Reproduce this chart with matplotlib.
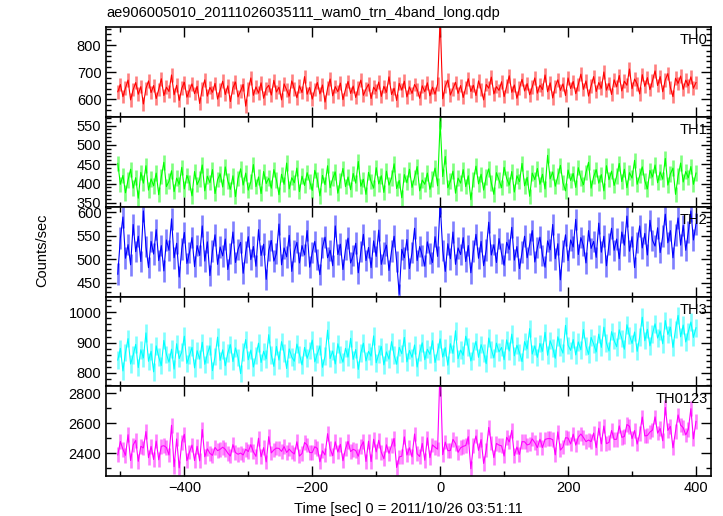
import numpy as np
import matplotlib
matplotlib.use('Agg')
import matplotlib.pyplot as plt
from matplotlib.ticker import MultipleLocator

plt.rcParams['font.family'] = ['Liberation Sans', 'DejaVu Sans']

title = 'ae906005010_20111026035111_wam0_trn_4band_long.qdp'
xlabel = 'Time [sec] 0 = 2011/10/26 03:51:11'
ylabel = 'Counts/sec'

# 4 s bins from -504 to 400 s
time = np.arange(-504, 401, 4)

th0 = [628, 655, 610, 642, 671, 598, 636, 662, 619, 647, 583, 640, 668, 625, 651,
       603, 637, 676, 614, 645, 629, 690, 617, 652, 596, 641, 663, 608, 633, 657,
       621, 648, 585, 639, 672, 612, 644, 626, 659, 601, 635, 667, 618, 650, 592,
       643, 664, 609, 631, 655, 575, 638, 679, 615, 646, 623, 661, 604, 640, 652,
       616, 670, 627, 645, 598, 657, 634, 612, 668, 639, 606, 650, 625, 684, 619,
       644, 601, 636, 662, 620, 653, 590, 641, 675, 613, 647, 628, 660, 599, 637,
       666, 622, 649, 607, 642, 671, 615, 638, 656, 603, 645, 630, 664, 611, 648,
       626, 683, 618, 641, 596, 659, 634, 667, 609, 646, 622, 655, 637, 604, 650,
       628, 661, 613, 645, 619, 657, 900, 602, 648, 671, 616, 639, 663, 622, 651,
       607, 644, 676, 629, 652, 614, 668, 637, 598, 655, 641, 682, 620, 647, 633,
       665, 610, 649, 687, 626, 653, 604, 641, 674, 631, 658, 617, 646, 679, 623,
       652, 636, 690, 628, 661, 605, 648, 672, 633, 657, 614, 679, 640, 666, 621,
       655, 693, 637, 668, 612, 650, 684, 629, 662, 641, 701, 634, 659, 618, 672,
       646, 688, 631, 667, 652, 712, 639, 675, 657, 620, 691, 648, 680, 636, 669,
       705, 651, 684, 628, 672, 695, 643, 610, 678, 659, 686, 637, 671, 650, 683,
       641, 662]

th1 = [452, 398, 421, 376, 409, 437, 388, 415, 362, 429, 401, 446, 383, 412, 394,
       427, 371, 418, 455, 392, 406, 433, 379, 414, 398, 442, 386, 421, 403, 368,
       431, 397, 412, 448, 381, 419, 402, 436, 374, 410, 425, 391, 443, 407, 385,
       420, 366, 413, 438, 396, 427, 383, 405, 449, 392, 417, 374, 431, 400, 414,
       388, 436, 409, 371, 424, 398, 453, 386, 415, 402, 440, 379, 419, 395, 428,
       405, 382, 434, 410, 368, 421, 397, 446, 389, 413, 430, 375, 408, 439, 392,
       417, 384, 426, 401, 457, 393, 411, 372, 429, 405, 388, 441, 399, 420, 377,
       432, 396, 414, 451, 387, 408, 363, 423, 402, 437, 390, 416, 444, 381, 409,
       398, 427, 385, 412, 440, 394, 560, 418, 470, 389, 406, 432, 375, 414, 401,
       436, 392, 420, 358, 411, 445, 399, 424, 383, 417, 438, 401, 372, 428, 409,
       389, 442, 413, 396, 431, 378, 420, 405, 452, 394, 416, 367, 427, 410, 439,
       398, 424, 386, 473, 412, 430, 393, 419, 447, 402, 381, 435, 408, 426, 390,
       441, 414, 397, 429, 455, 388, 418, 436, 401, 423, 381, 446, 410, 432, 395,
       419, 452, 405, 437, 389, 428, 414, 460, 398, 421, 443, 407, 386, 434, 417,
       448, 402, 430, 411, 465, 396, 425, 440, 372, 419, 453, 404, 431, 415, 444,
       398, 427]

th2 = [468, 545, 590, 502, 531, 488, 574, 516, 549, 495, 603, 527, 482, 538, 511,
       563, 497, 529, 475, 541, 519, 586, 503, 534, 462, 522, 557, 491, 514, 546,
       484, 529, 508, 571, 496, 537, 465, 518, 552, 489, 526, 507, 543, 478, 512,
       558, 493, 521, 536, 470, 515, 548, 499, 527, 485, 563, 508, 532, 457, 519,
       540, 496, 512, 575, 488, 524, 505, 551, 474, 517, 536, 492, 529, 509, 561,
       483, 514, 538, 499, 467, 525, 547, 503, 519, 486, 571, 510, 532, 478, 521,
       545, 492, 508, 534, 471, 516, 553, 497, 525, 482, 539, 506, 562, 489, 513,
       530, 476, 518, 549, 495, 425, 521, 503, 542, 480, 514, 566, 497, 527, 508,
       485, 537, 512, 493, 548, 506, 620, 519, 474, 533, 501, 558, 489, 524, 510,
       546, 495, 529, 471, 517, 553, 502, 538, 486, 520, 579, 509, 531, 493, 544,
       512, 487, 536, 521, 568, 498, 527, 480, 515, 549, 503, 532, 561, 494, 525,
       547, 508, 483, 539, 520, 574, 501, 533, 456, 518, 552, 497, 541, 526, 585,
       510, 546, 529, 492, 561, 523, 538, 504, 577, 515, 549, 486, 532, 566, 519,
       543, 501, 558, 530, 592, 517, 548, 482, 536, 571, 524, 555, 509, 583, 540,
       528, 567, 514, 549, 596, 535, 561, 503, 552, 588, 530, 572, 519, 558, 603,
       541, 575]

th3 = [842, 881, 806, 867, 913, 829, 858, 894, 817, 876, 849, 932, 838, 871, 803,
       889, 852, 824, 907, 861, 835, 878, 812, 896, 847, 869, 921, 831, 858, 884,
       816, 873, 845, 901, 828, 862, 889, 807, 854, 918, 841, 876, 823, 866, 893,
       837, 882, 851, 797, 868, 910, 843, 875, 819, 857, 898, 834, 871, 846, 926,
       859, 821, 887, 842, 903, 866, 814, 879, 852, 838, 895, 861, 826, 884, 848,
       873, 908, 836, 862, 889, 818, 855, 941, 847, 872, 829, 896, 860, 835, 881,
       852, 914, 844, 877, 811, 866, 898, 839, 871, 855, 922, 833, 862, 887, 826,
       869, 845, 903, 858, 828, 884, 863, 917, 836, 874, 851, 892, 819, 867, 899,
       843, 878, 861, 906, 834, 871, 912, 852, 883, 825, 896, 864, 939, 847, 875,
       858, 921, 886, 839, 872, 904, 851, 893, 866, 830, 915, 877, 849, 898, 869,
       884, 843, 909, 872, 928, 856, 891, 867, 837, 903, 879, 946, 862, 889, 851,
       897, 871, 934, 858, 906, 882, 848, 919, 886, 865, 957, 891, 874, 910, 859,
       902, 876, 943, 889, 861, 917, 895, 869, 928, 884, 951, 899, 872, 936, 907,
       886, 942, 913, 878, 959, 924, 897, 935, 871, 918, 984, 906, 944, 889, 929,
       962, 915, 938, 896, 973, 927, 951, 884, 944, 990, 919, 958, 902, 936, 968,
       917, 949]

# sum of the four bands
th0123 = np.array(th0) + np.array(th1) + np.array(th2) + np.array(th3)

names = ['TH0', 'TH1', 'TH2', 'TH3', 'TH0123']
series = [th0, th1, th2, th3, th0123]
errs = [25, 20, 23, 29, 49]
colors = ['#ff0000', '#00ff00', '#0000ff', '#00ffff', '#ff00ff']
ylims = [(536, 867), (340, 573), (420, 612), (756, 1052), (2249, 2849)]
majors = [100, 50, 50, 100, 200]
minors = [20, 10, 10, 20, 100]

fig = plt.figure(figsize=(7.23, 5.16), dpi=100)
W, H = 723, 516
left, right = 106.3, 710.7
edges = [27, 116.7, 206.7, 296.7, 386, 476]

axes = []
for i in range(5):
    b = 1 - edges[i + 1] / H
    h = (edges[i + 1] - edges[i]) / H
    ax = fig.add_axes([left / W, b, (right - left) / W, h])
    y = np.array(series[i])
    ax.errorbar(time, y, yerr=errs[i], fmt='none', ecolor=colors[i], alpha=0.5,
                elinewidth=1.9)
    ax.plot(time, y, color=colors[i], lw=0.8)
    ax.set_xlim(-522, 423)
    ax.set_ylim(*ylims[i])
    ax.xaxis.set_major_locator(MultipleLocator(200))
    ax.xaxis.set_minor_locator(MultipleLocator(100))
    ax.yaxis.set_major_locator(MultipleLocator(majors[i]))
    ax.yaxis.set_minor_locator(MultipleLocator(minors[i]))
    ax.tick_params(which='both', direction='in', top=True, right=True,
                   labelsize=10.5, width=1)
    ax.tick_params(which='major', length=7)
    ax.tick_params(which='minor', length=3.5)
    for s in ax.spines.values():
        s.set_linewidth(1.2)
    if i < 4:
        ax.set_xticklabels([])
    ax.text(0.995, 0.93, names[i], transform=ax.transAxes, ha='right', va='top',
            fontsize=10.5)
    axes.append(ax)

axes[-1].set_xlabel(xlabel, fontsize=10.5, labelpad=5)
fig.text(106 / W, 1 - 13 / H, title, fontsize=10.5, ha='left', va='center')
fig.text(42 / W, 1 - 250 / H, ylabel, fontsize=10.5, rotation=90,
         ha='center', va='center')

fig.savefig('out.png', dpi=100)
